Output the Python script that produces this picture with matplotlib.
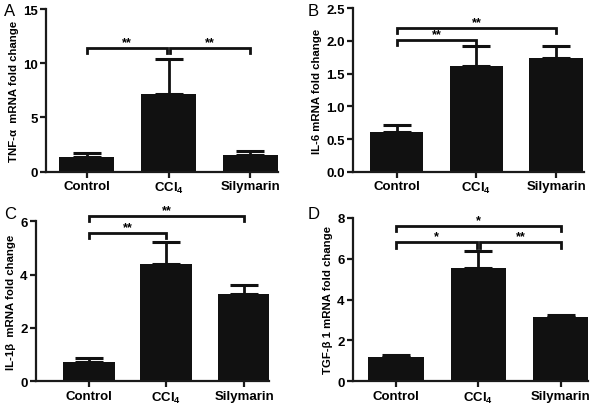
import matplotlib.pyplot as plt

plt.rcParams['font.family'] = ['Liberation Sans', 'DejaVu Sans']
plt.rcParams['font.weight'] = 'bold'
plt.rcParams['mathtext.fontset'] = 'custom'
plt.rcParams['mathtext.rm'] = 'Liberation Sans:bold'
plt.rcParams['mathtext.bf'] = 'Liberation Sans:bold'
plt.rcParams['mathtext.default'] = 'rm'

# data (mean and upper error)
groups = ["Control", "CCl$_4$", "Silymarin"]

tnf_mean = [1.35, 7.15, 1.57]
tnf_err = [0.37, 3.25, 0.37]
il6_mean = [0.61, 1.62, 1.74]
il6_err = [0.10, 0.30, 0.19]
il1b_mean = [0.72, 4.41, 3.26]
il1b_err = [0.15, 0.80, 0.34]
tgf_mean = [1.20, 5.55, 3.14]
tgf_err = [0.10, 0.81, 0.09]

tnf_sig = [(0, 1, "**"), (1, 2, "**")]
il6_sig = [(0, 1, "**"), (0, 2, "**")]
il1b_sig = [(0, 1, "**"), (0, 2, "**")]
tgf_sig = [(0, 1, "*"), (1, 2, "**"), (0, 2, "*")]

W, H = 606, 406
fig = plt.figure(figsize=(W / 100, H / 100), dpi=100)


def px_rect(l, r, t, b):
    return [l / W, 1 - b / H, (r - l) / W, (b - t) / H]


panels = [
    dict(letter="A", rect=px_rect(46, 278, 10, 172.7), xlim=(-0.5, 2.34),
         ylim=(0, 15), yticks=[0, 5, 10, 15], fmt="{:.0f}",
         mean=tnf_mean, err=tnf_err, sig=tnf_sig,
         ylabel="TNF-α  mRNA fold change",
         levels=[11.4, 11.4], tip=0.5, lpos=(4, 4)),
    dict(letter="B", rect=px_rect(353, 584, 9.3, 172.7), xlim=(-0.55, 2.35),
         ylim=(0, 2.5), yticks=[0, 0.5, 1.0, 1.5, 2.0, 2.5], fmt="{:.1f}",
         mean=il6_mean, err=il6_err, sig=il6_sig,
         ylabel="IL-6 mRNA fold change",
         levels=[2.02, 2.20], tip=0.075, lpos=(308, 4)),
    dict(letter="C", rect=px_rect(36, 269, 222.3, 382.3), xlim=(-0.68, 2.32),
         ylim=(0, 6), yticks=[0, 2, 4, 6], fmt="{:.0f}",
         mean=il1b_mean, err=il1b_err, sig=il1b_sig,
         ylabel="IL-1β  mRNA fold change",
         levels=[5.56, 6.19], tip=0.19, lpos=(4, 207)),
    dict(letter="D", rect=px_rect(353, 588, 218.7, 382.3), xlim=(-0.52, 2.33),
         ylim=(0, 8), yticks=[0, 2, 4, 6, 8], fmt="{:.0f}",
         mean=tgf_mean, err=tgf_err, sig=tgf_sig,
         ylabel="TGF-β 1 mRNA fold change",
         levels=[6.80, 6.80, 7.60], tip=0.27, lpos=(308, 207)),
]

x = [0, 1, 2]
for p in panels:
    ax = fig.add_axes(p["rect"])
    ax.bar(x, p["mean"], width=0.67, color="#111111", zorder=2)
    ax.errorbar(x, p["mean"], yerr=[[0, 0, 0], p["err"]], fmt="none",
                ecolor="#111111", elinewidth=2, capsize=10, capthick=2.2, zorder=1)
    ax.set_xlim(*p["xlim"])
    ax.set_ylim(*p["ylim"])
    ax.set_yticks(p["yticks"])
    ax.set_yticklabels([p["fmt"].format(v) for v in p["yticks"]])
    ax.set_xticks(x)
    ax.set_xticklabels(groups)
    for s in ["top", "right"]:
        ax.spines[s].set_visible(False)
    for s in ["left", "bottom"]:
        ax.spines[s].set_linewidth(1.6)
        ax.spines[s].set_color("#1a1a1a")
    ax.tick_params(direction="out", length=4, width=1.6, labelsize=9.5,
                   color="#1a1a1a", pad=2)
    ax.set_ylabel(p["ylabel"], fontsize=8.2, fontweight="bold", labelpad=3)

    # significance brackets
    for (i, j, lab), lev in zip(p["sig"], p["levels"]):
        xi = i + (0.02 if any(jj == i and ii != i for ii, jj, _ in p["sig"]) and i > 0 else 0)
        xj = j - (0.02 if any(ii == j for ii, _, _ in p["sig"]) and j < 2 else 0)
        ax.plot([xi, xi, xj, xj], [lev - p["tip"], lev, lev, lev - p["tip"]],
                color="#111111", lw=2, clip_on=False, solid_joinstyle="miter")
        ax.text((xi + xj) / 2, lev, lab, ha="center", va="bottom",
                fontsize=9, fontweight="bold", clip_on=False)

    fig.text(p["lpos"][0] / W, 1 - p["lpos"][1] / H, p["letter"],
             fontsize=12, fontweight="normal", va="top", ha="left")

fig.savefig("out.png", dpi=100)
